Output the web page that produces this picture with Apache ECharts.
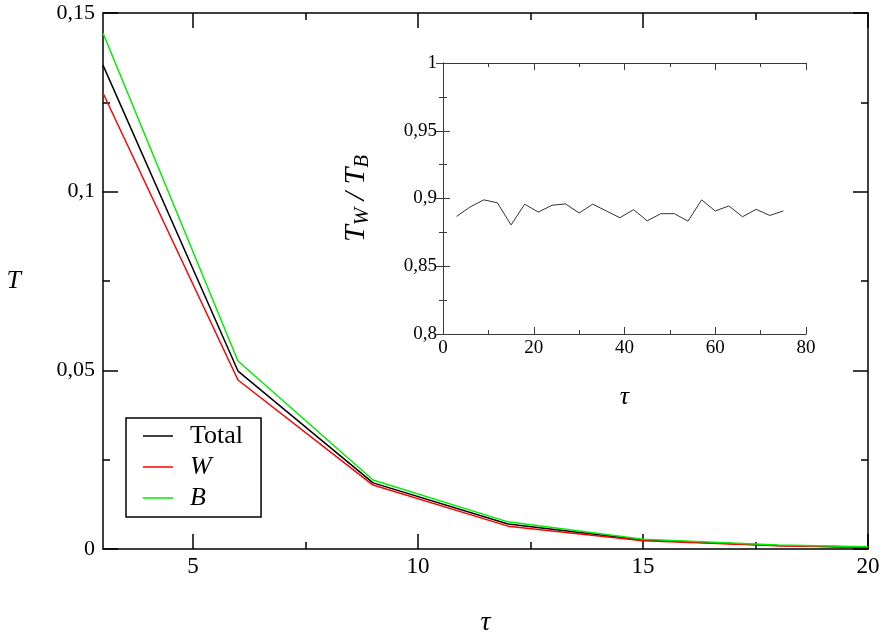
<!DOCTYPE html>
<html>
<head>
<meta charset="utf-8">
<script src="https://cdn.jsdelivr.net/npm/echarts@6/dist/echarts.min.js"></script>
<style>
  html, body { margin: 0; padding: 0; background: #fff; }
  #main { width: 889px; height: 643px; }
</style>
</head>
<body>
<div id="main"></div>
<script>
// main plot data (tau vs T)
var tau = [3, 6, 9, 12, 15, 18, 20];
var totalT = [0.1354, 0.0498, 0.0185, 0.0070, 0.0025, 0.0010, 0.0005];
var whiteT = [0.1276, 0.0473, 0.0179, 0.0064, 0.0023, 0.0009, 0.0004];
var blackT = [0.1444, 0.0526, 0.0193, 0.0076, 0.0027, 0.0011, 0.0006];

// inset data (tau vs T_W/T_B)
var insetTau = [3, 6, 9, 12, 15, 18, 21, 24, 27, 30, 33, 36, 39, 42, 45, 48, 51, 54, 57, 60, 63, 66, 69, 72, 75];
var ratio = [0.8868, 0.8938, 0.8990, 0.8968, 0.8805, 0.8958, 0.8900, 0.8950, 0.8960, 0.8893, 0.8958,
  0.8908, 0.8858, 0.8918, 0.8835, 0.8888, 0.8888, 0.8833, 0.8990, 0.8908, 0.8945, 0.8865, 0.8920,
  0.8875, 0.8908];

var mainXTicks = [5, 10, 15, 20];
var mainXMinor = [7.5, 12.5, 17.5];

function pairs(xs, ys) {
  return xs.map(function (x, i) { return [x, ys[i]]; });
}
function comma(v) {
  return String(parseFloat(v.toFixed(4))).replace('.', ',');
}

var font = 'Liberation Serif';
var black = '#000';
var grey = '#3a3a3a';

var myChart = echarts.init(document.getElementById('main'));

var option = {
  animation: false,
  backgroundColor: '#fff',
  textStyle: { fontFamily: font },
  grid: [
    { left: 103, top: 13, right: 21, bottom: 94 },
    { left: 443, top: 63, width: 363, height: 271, show: true, backgroundColor: '#fff', borderWidth: 0 }
  ],
  legend: {
    left: 126,
    top: 418,
    orient: 'vertical',
    backgroundColor: '#fff',
    borderColor: black,
    borderWidth: 1.5,
    borderRadius: 0,
    padding: [5, 18, 6, 17],
    icon: 'rect',
    itemWidth: 30,
    itemHeight: 1.5,
    itemGap: 5,
    data: ['Total', 'W', 'B'],
    formatter: function (name) {
      return name === 'Total' ? '{n|Total}' : '{i|' + name + '}';
    },
    textStyle: {
      padding: [0, 0, 0, 12],
      rich: {
        n: { fontFamily: font, fontSize: 26, color: black, lineHeight: 28 },
        i: { fontFamily: font, fontSize: 26, fontStyle: 'italic', color: black, lineHeight: 28 }
      }
    }
  },
  xAxis: [
    {
      gridIndex: 0, type: 'value', position: 'bottom', min: 3, max: 20,
      name: 'τ', nameLocation: 'middle', nameGap: 60,
      nameTextStyle: { fontFamily: font, fontSize: 28, fontStyle: 'italic', color: black },
      axisLine: { lineStyle: { color: black, width: 1.5 } },
      axisTick: { customValues: mainXTicks, inside: true, length: 15, lineStyle: { color: black, width: 1.5 } },
      axisLabel: { customValues: mainXTicks, margin: 6, fontFamily: font, fontSize: 23, color: black, formatter: comma },
      splitLine: { show: false }
    },
    {
      gridIndex: 0, type: 'value', position: 'bottom', min: 3, max: 20,
      axisLine: { show: false },
      axisTick: { customValues: mainXMinor, inside: true, length: 7, lineStyle: { color: black, width: 1.5 } },
      axisLabel: { show: false },
      splitLine: { show: false }
    },
    {
      gridIndex: 0, type: 'value', position: 'top', min: 3, max: 20,
      axisLine: { lineStyle: { color: black, width: 1.5 } },
      axisTick: { customValues: mainXTicks, inside: true, length: 15, lineStyle: { color: black, width: 1.5 } },
      axisLabel: { show: false },
      splitLine: { show: false }
    },
    {
      gridIndex: 0, type: 'value', position: 'top', min: 3, max: 20,
      axisLine: { show: false },
      axisTick: { customValues: mainXMinor, inside: true, length: 7, lineStyle: { color: black, width: 1.5 } },
      axisLabel: { show: false },
      splitLine: { show: false }
    },
    {
      gridIndex: 1, type: 'value', position: 'bottom', min: 0, max: 80, interval: 20,
      name: 'τ', nameLocation: 'middle', nameGap: 50,
      nameTextStyle: { fontFamily: font, fontSize: 26, fontStyle: 'italic', color: black },
      axisLine: { lineStyle: { color: grey, width: 1 } },
      axisTick: { inside: true, length: 7, lineStyle: { color: grey, width: 1 } },
      minorTick: { show: true, splitNumber: 2, length: 4, lineStyle: { color: grey, width: 1 } },
      axisLabel: { margin: 5, fontFamily: font, fontSize: 19, color: black, formatter: comma },
      splitLine: { show: false }
    },
    {
      gridIndex: 1, type: 'value', position: 'top', min: 0, max: 80, interval: 20,
      axisLine: { lineStyle: { color: grey, width: 1 } },
      axisTick: { inside: true, length: 7, lineStyle: { color: grey, width: 1 } },
      minorTick: { show: true, splitNumber: 2, length: 4, lineStyle: { color: grey, width: 1 } },
      axisLabel: { show: false },
      splitLine: { show: false }
    }
  ],
  yAxis: [
    {
      gridIndex: 0, type: 'value', position: 'left', min: 0, max: 0.15, interval: 0.05,
      name: 'T', nameLocation: 'middle', nameGap: 82, nameRotate: 0,
      nameTextStyle: { fontFamily: font, fontSize: 26, fontStyle: 'italic', color: black },
      axisLine: { lineStyle: { color: black, width: 1.5 } },
      axisTick: { inside: true, length: 15, lineStyle: { color: black, width: 1.5 } },
      minorTick: { show: true, splitNumber: 2, length: 7, lineStyle: { color: black, width: 1.5 } },
      axisLabel: { margin: 8, fontFamily: font, fontSize: 22, color: black, formatter: comma },
      splitLine: { show: false }
    },
    {
      gridIndex: 0, type: 'value', position: 'right', min: 0, max: 0.15, interval: 0.05,
      axisLine: { lineStyle: { color: black, width: 1.5 } },
      axisTick: { inside: true, length: 15, lineStyle: { color: black, width: 1.5 } },
      minorTick: { show: true, splitNumber: 2, length: 7, lineStyle: { color: black, width: 1.5 } },
      axisLabel: { show: false },
      splitLine: { show: false }
    },
    {
      gridIndex: 1, type: 'value', position: 'left', min: 0.8, max: 1, interval: 0.05,
      name: '{i|T}{s|W}{i| / T}{s|B}', nameLocation: 'middle', nameGap: 70,
      nameTextStyle: {
        color: black,
        rich: {
          i: { fontFamily: font, fontSize: 30, fontStyle: 'italic', color: black },
          s: { fontFamily: font, fontSize: 21, fontStyle: 'italic', color: black, verticalAlign: 'bottom', padding: [12, 0, 0, 0] }
        }
      },
      axisLine: { lineStyle: { color: grey, width: 1 } },
      axisTick: { inside: true, length: 7, lineStyle: { color: grey, width: 1 } },
      minorTick: { show: true, splitNumber: 2, length: 4, lineStyle: { color: grey, width: 1 } },
      axisLabel: { margin: 6, fontFamily: font, fontSize: 19, color: black, formatter: comma },
      splitLine: { show: false }
    },
    {
      gridIndex: 1, type: 'value', position: 'right', min: 0.8, max: 1, interval: 0.05,
      axisLine: { lineStyle: { color: grey, width: 1 } },
      axisTick: { inside: true, length: 7, lineStyle: { color: grey, width: 1 } },
      minorTick: { show: true, splitNumber: 2, length: 4, lineStyle: { color: grey, width: 1 } },
      axisLabel: { show: false },
      splitLine: { show: false }
    }
  ],
  series: [
    {
      name: 'Total', type: 'line', xAxisIndex: 0, yAxisIndex: 0,
      symbol: 'none', color: '#000', lineStyle: { width: 1.5 },
      data: pairs(tau, totalT)
    },
    {
      name: 'W', type: 'line', xAxisIndex: 0, yAxisIndex: 0,
      symbol: 'none', color: '#ff0000', lineStyle: { width: 1.5 },
      data: pairs(tau, whiteT)
    },
    {
      name: 'B', type: 'line', xAxisIndex: 0, yAxisIndex: 0,
      symbol: 'none', color: '#00ee00', lineStyle: { width: 1.5 },
      data: pairs(tau, blackT)
    },
    {
      name: 'ratio', type: 'line', xAxisIndex: 4, yAxisIndex: 2,
      symbol: 'none', color: '#333', lineStyle: { width: 1 },
      data: pairs(insetTau, ratio)
    }
  ]
};

myChart.setOption(option);
</script>
</body>
</html>
